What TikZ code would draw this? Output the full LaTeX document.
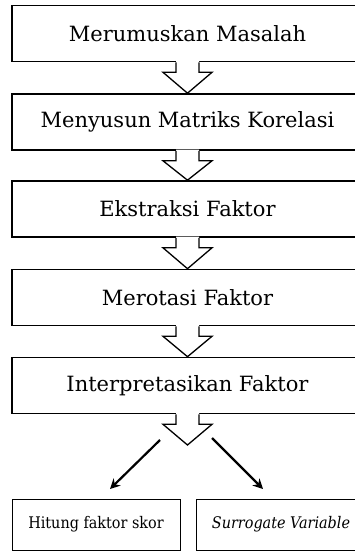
\documentclass[tikz,border=0pt]{standalone}
\usepackage{fontspec}
\setmainfont{DejaVu Serif}
\newfontfamily\subfont{DejaVu Serif Condensed}
\usetikzlibrary{arrows.meta,calc}
\newcommand\flowarrow[2]{%
  \fill[white] ($(#1.south)+(-11.5,-1.2)$) -- ($(#1.south)+(-11.5,10)$) -- ($(#1.south)+(-24.5,10)$) -- (#2) -- ($(#1.south)+(24.5,10)$) -- ($(#1.south)+(11.5,10)$) -- ($(#1.south)+(11.5,-1.2)$) -- cycle;
  \draw[blockarrow] ($(#1.south)+(-11.5,0)$) -- ($(#1.south)+(-11.5,10)$) -- ($(#1.south)+(-24.5,10)$) -- (#2) -- ($(#1.south)+(24.5,10)$) -- ($(#1.south)+(11.5,10)$) -- ($(#1.south)+(11.5,0)$);%
}
\begin{document}
\begin{tikzpicture}[x=1pt,y=-1pt,
  mainbox/.style={draw,line width=1.6pt,minimum width=351pt,minimum height=56pt,inner sep=0pt,font=\fontsize{21}{25}\selectfont},
  subbox/.style={draw,line width=0.9pt,minimum height=51pt,inner sep=0pt,font=\subfont\fontsize{16}{19}\selectfont},
  blockarrow/.style={line width=1.3pt,line join=miter},
  splitarrow/.style={line width=2.2pt,-{Stealth[length=10pt,width=10pt]}}]
\useasboundingbox (0,0) rectangle (355,551);
\clip (0,0) rectangle (355,551);
\node[mainbox] (b1) at (187.5,33.5) {Merumuskan Masalah};
\node[mainbox] (b2) at (187.5,122) {Menyusun Matriks Korelasi};
\node[mainbox] (b3) at (187.5,209) {Ekstraksi Faktor};
\node[mainbox] (b4) at (187.5,297.5) {Merotasi Faktor};
\node[mainbox] (b5) at (187.5,385.5) {Interpretasikan Faktor};
\coordinate (t5) at (187.5,445);
\flowarrow{b1}{b2.north}
\flowarrow{b2}{b3.north}
\flowarrow{b3}{b4.north}
\flowarrow{b4}{b5.north}
\flowarrow{b5}{t5}
\node[subbox,minimum width=168pt] (h1) at (96,524.5) {Hitung faktor skor};
\node[subbox,minimum width=170pt] (h2) at (281,524.5) {\itshape Surrogate Variable};
\coordinate (s1) at (160,440);
\coordinate (e1) at (110,489);
\coordinate (s2) at (212,438);
\coordinate (e2) at (263,489);
\draw[splitarrow] (s1) -- (e1);
\draw[splitarrow] (s2) -- (e2);
\end{tikzpicture}
\end{document}
